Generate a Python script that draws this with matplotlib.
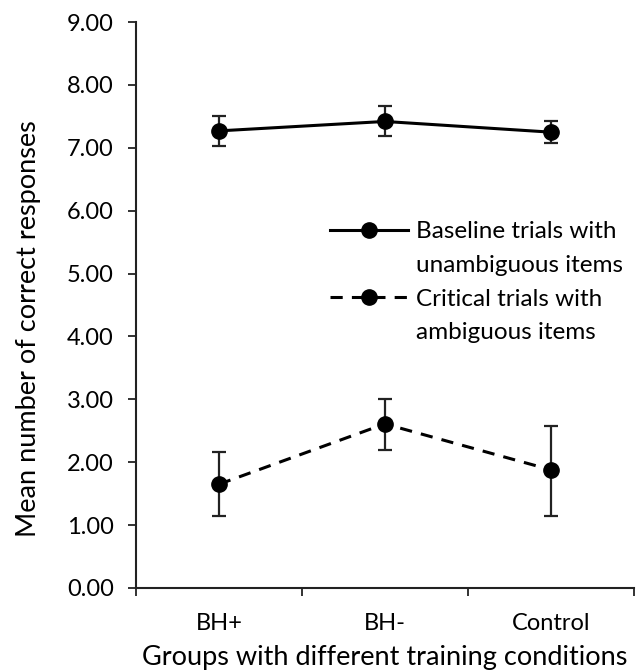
import matplotlib
matplotlib.use('Agg')
import matplotlib.pyplot as plt
from matplotlib.lines import Line2D
import numpy as np

plt.rcParams['font.family'] = ['Lato', 'DejaVu Sans']

groups = ['BH+', 'BH-', 'Control']
baseline = [7.27, 7.42, 7.25]
baseline_lo = [7.03, 7.19, 7.07]
baseline_hi = [7.50, 7.66, 7.42]
critical = [1.65, 2.61, 1.88]
critical_lo = [1.14, 2.19, 1.14]
critical_hi = [2.16, 3.00, 2.58]

x = np.arange(len(groups)) + 0.5
base = np.array(baseline)
crit = np.array(critical)
base_err = [base - np.array(baseline_lo), np.array(baseline_hi) - base]
crit_err = [crit - np.array(critical_lo), np.array(critical_hi) - crit]

fig = plt.figure(figsize=(6.4, 6.7), dpi=100)
ax = fig.add_axes([0.2125, 0.1224, 0.7775, 0.8446])

ax.errorbar(x, base, yerr=base_err, fmt='-o', color='black', lw=2.2, ms=11,
            ecolor='#222222', elinewidth=1.6, capsize=5, capthick=1.6)
ax.errorbar(x, crit, yerr=crit_err, fmt='--o', color='black', lw=2.2, ms=11,
            dashes=(4, 3), ecolor='#222222', elinewidth=1.6, capsize=5, capthick=1.6)

ax.set_xlim(0, 3)
ax.set_ylim(0, 9)
ax.set_yticks(np.arange(0, 10, 1))
ax.set_yticklabels(['%.2f' % v for v in np.arange(0, 10, 1)])
ax.set_xticks([0, 1, 2, 3])
ax.set_xticklabels([])
ax.set_xticks(x, minor=True)
ax.set_xticklabels(groups, minor=True)
ax.tick_params(axis='x', which='minor', length=0, pad=18, labelsize=17)
ax.tick_params(axis='x', which='major', length=6, width=1.3, color='#222222')
ax.tick_params(axis='y', length=6, width=1.3, color='#222222', labelsize=17, pad=10)

for s in ['top', 'right']:
    ax.spines[s].set_visible(False)
for s in ['left', 'bottom']:
    ax.spines[s].set_linewidth(1.5)
    ax.spines[s].set_color('#222222')

ax.set_xlabel('Groups with different training conditions', fontsize=19.5)
ax.xaxis.set_label_coords(0.5, -0.1)
ax.set_ylabel('Mean number of correct responses', fontsize=19.5)
ax.yaxis.set_label_coords(-0.19, 0.458)

# legend: handle sits next to the first line of each two-line label
solid = Line2D([], [], color='black', lw=2.2, marker='o', ms=11)
dashed = Line2D([], [], color='black', lw=2.2, ls='--', dashes=(4, 3), marker='o', ms=11)
blank = Line2D([], [], color='none')
leg = ax.legend([solid, blank, dashed, blank],
                ['Baseline trials with', 'unambiguous items',
                 'Critical trials with', 'ambiguous items'],
                loc='upper left', bbox_to_anchor=(0.37, 0.665), frameon=False,
                fontsize=17.5, handlelength=3.2, handletextpad=0.35,
                labelspacing=0.52, borderaxespad=0)

fig.savefig('out.png', dpi=100)
